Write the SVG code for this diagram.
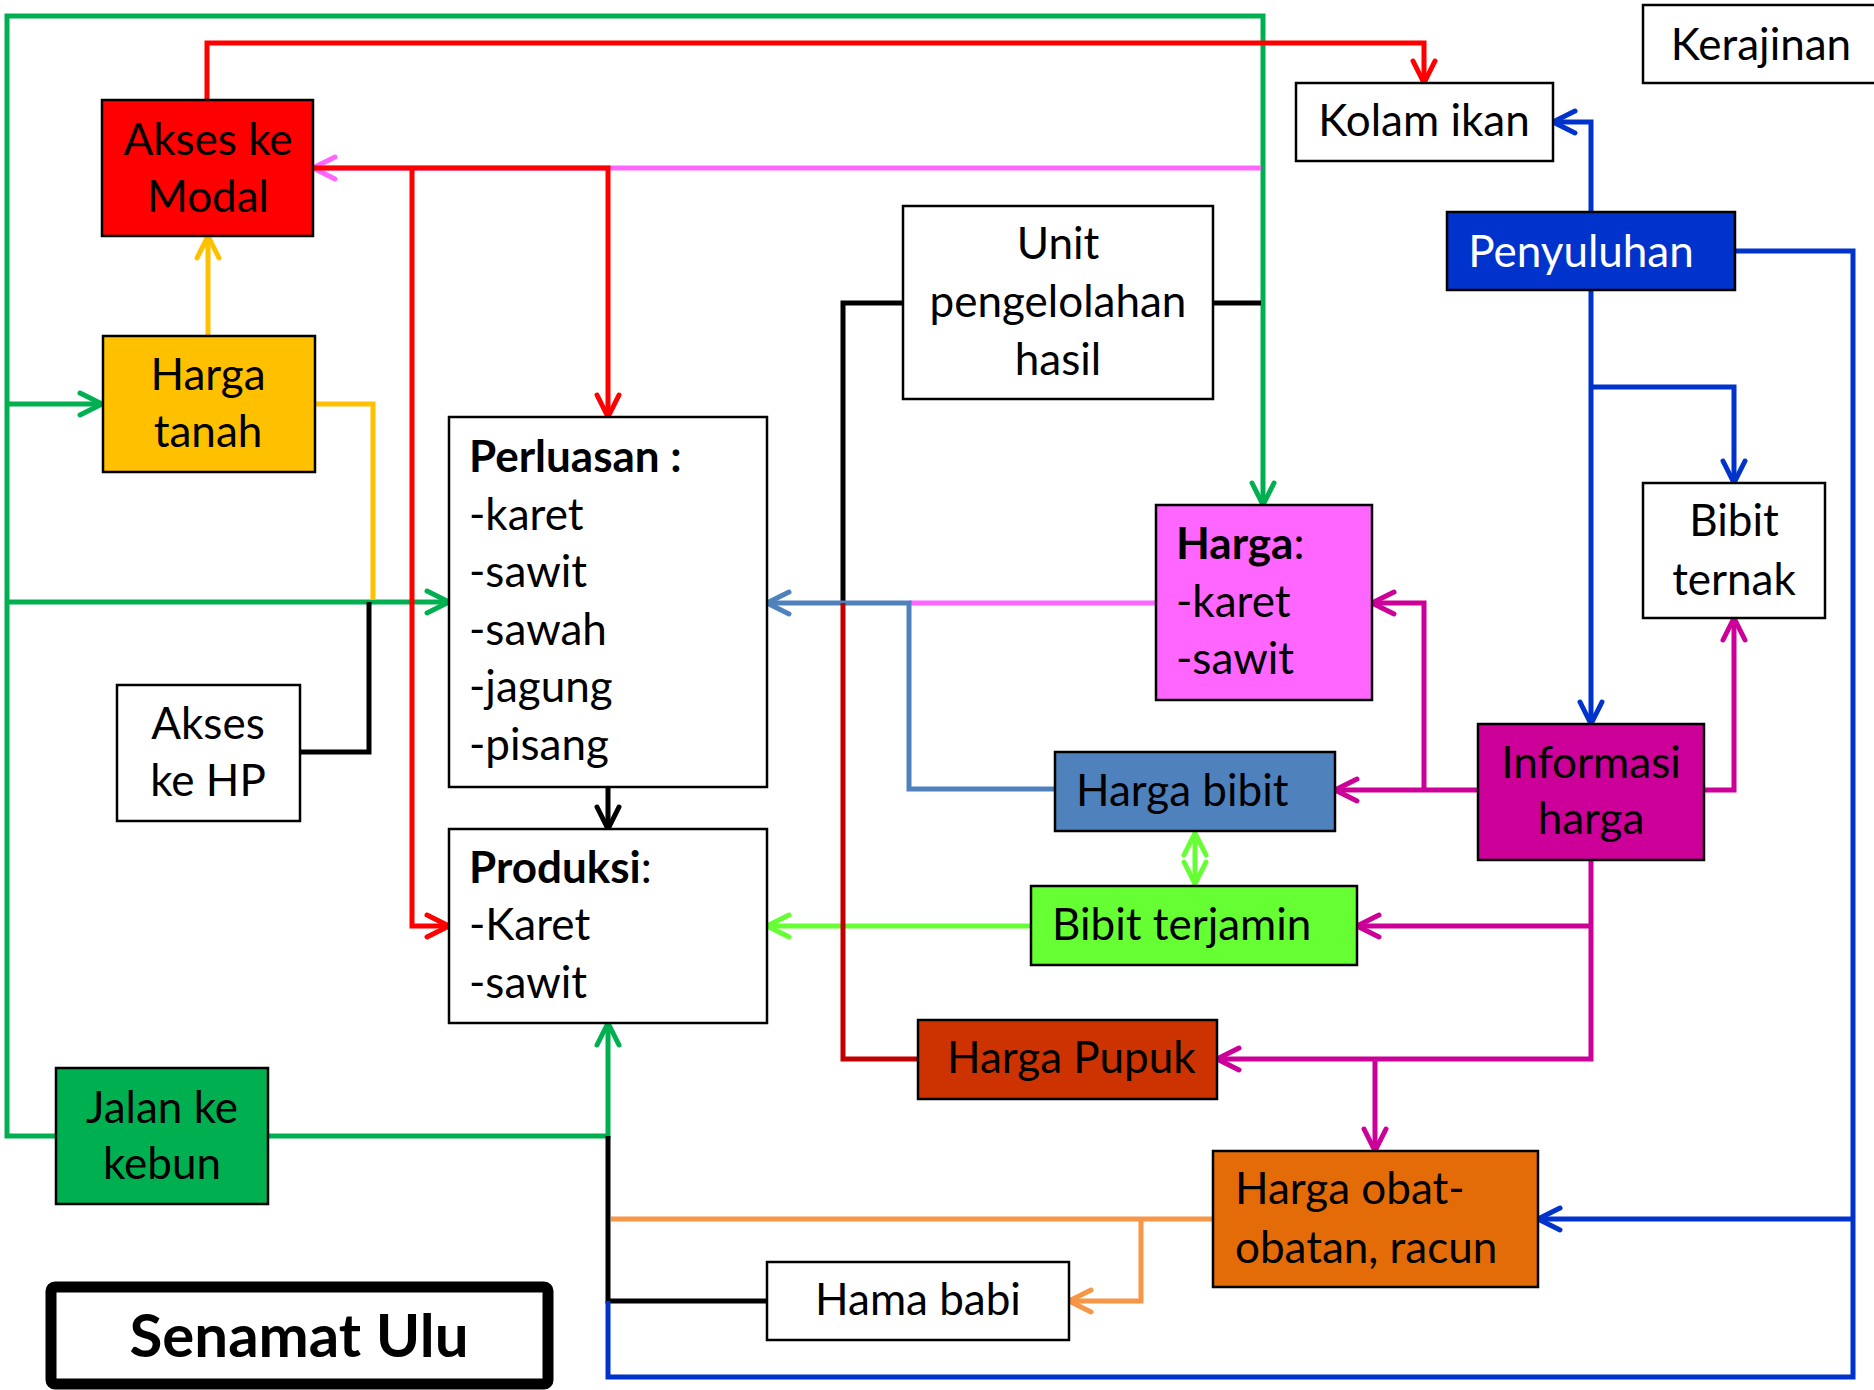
<svg xmlns="http://www.w3.org/2000/svg" width="1874" height="1390" viewBox="0 0 1874 1390">
<style>
.n{stroke:#000;stroke-width:2.5}
.t{font-family:Lato,"Liberation Sans",sans-serif;font-size:44px;fill:#000}
.m{text-anchor:middle}
.b{font-weight:bold}
.c{fill:none;stroke-width:5;stroke-linejoin:miter}
.ah{fill:none;stroke-width:5;stroke-linecap:round;stroke-linejoin:round}
</style>
<defs>
<marker id="aG" markerUnits="userSpaceOnUse" markerWidth="40" markerHeight="40" viewBox="-30 -20 40 40" refX="-2" refY="0" orient="auto"><path class="ah" stroke="#00B050" d="M-22,-11 L0,0 L-22,11"/></marker>
<marker id="aY" markerUnits="userSpaceOnUse" markerWidth="40" markerHeight="40" viewBox="-30 -20 40 40" refX="-2" refY="0" orient="auto"><path class="ah" stroke="#FFC000" d="M-22,-11 L0,0 L-22,11"/></marker>
<marker id="aK" markerUnits="userSpaceOnUse" markerWidth="40" markerHeight="40" viewBox="-30 -20 40 40" refX="-2" refY="0" orient="auto"><path class="ah" stroke="#000" d="M-22,-11 L0,0 L-22,11"/></marker>
<marker id="aR" markerUnits="userSpaceOnUse" markerWidth="40" markerHeight="40" viewBox="-30 -20 40 40" refX="-2" refY="0" orient="auto"><path class="ah" stroke="#FF0000" d="M-22,-11 L0,0 L-22,11"/></marker>
<marker id="aP" markerUnits="userSpaceOnUse" markerWidth="40" markerHeight="40" viewBox="-30 -20 40 40" refX="-2" refY="0" orient="auto"><path class="ah" stroke="#FF66FF" d="M-22,-11 L0,0 L-22,11"/></marker>
<marker id="aS" markerUnits="userSpaceOnUse" markerWidth="40" markerHeight="40" viewBox="-30 -20 40 40" refX="-2" refY="0" orient="auto"><path class="ah" stroke="#4F81BD" d="M-22,-11 L0,0 L-22,11"/></marker>
<marker id="aM" markerUnits="userSpaceOnUse" markerWidth="40" markerHeight="40" viewBox="-30 -20 40 40" refX="-2" refY="0" orient="auto"><path class="ah" stroke="#CC0099" d="M-22,-11 L0,0 L-22,11"/></marker>
<marker id="aL" markerUnits="userSpaceOnUse" markerWidth="40" markerHeight="40" viewBox="-30 -20 40 40" refX="-2" refY="0" orient="auto-start-reverse"><path class="ah" stroke="#66FF33" d="M-22,-11 L0,0 L-22,11"/></marker>
<marker id="aB" markerUnits="userSpaceOnUse" markerWidth="40" markerHeight="40" viewBox="-30 -20 40 40" refX="-2" refY="0" orient="auto"><path class="ah" stroke="#0033CC" d="M-22,-11 L0,0 L-22,11"/></marker>
<marker id="aO" markerUnits="userSpaceOnUse" markerWidth="40" markerHeight="40" viewBox="-30 -20 40 40" refX="-2" refY="0" orient="auto"><path class="ah" stroke="#F79646" d="M-22,-11 L0,0 L-22,11"/></marker>
</defs>
<rect width="1874" height="1390" fill="#fff"/>
<g id="connectors">
  <path class="c" stroke="#00B050" d="M56,1136 H7 V16 H1263 V503" marker-end="url(#aG)"/>
  <path class="c" stroke="#00B050" d="M7,404 H100" marker-end="url(#aG)"/>
  <path class="c" stroke="#00B050" d="M7,602 H447" marker-end="url(#aG)"/>
  <path class="c" stroke="#00B050" d="M268,1136 H608 V1025" marker-end="url(#aG)"/>
  <path class="c" stroke="#FFC000" d="M208,336 V238" marker-end="url(#aY)"/>
  <path class="c" stroke="#FFC000" d="M315,404 H373 V600"/>
  <path class="c" stroke="#000" d="M300,752 H369 V602"/>
  <path class="c" stroke="#000" d="M903,303 H843 V603"/>
  <path class="c" stroke="#000" d="M1213,303 H1261"/>
  <path class="c" stroke="#000" d="M608,787 V827" marker-end="url(#aK)"/>
  <path class="c" stroke="#000" d="M767,1301 H608 V1136"/>
  <path class="c" stroke="#FF66FF" d="M1261,168 H315" marker-end="url(#aP)"/>
  <path class="c" stroke="#FF66FF" d="M1156,603 H909"/>
  <path class="c" stroke="#FF0000" d="M207,100 V43 H1424 V81" marker-end="url(#aR)"/>
  <path class="c" stroke="#FF0000" d="M313,168 H608 V415" marker-end="url(#aR)"/>
  <path class="c" stroke="#FF0000" d="M412,168 V926 H447" marker-end="url(#aR)"/>
  <path class="c" stroke="#4F81BD" d="M1055,789 H909 V603 H769" marker-end="url(#aS)"/>
  <path class="c" stroke="#66FF33" d="M1031,926 H769" marker-end="url(#aL)"/>
  <path class="c" stroke="#66FF33" d="M1195,835 V882" marker-start="url(#aL)" marker-end="url(#aL)"/>
  <path class="c" stroke="#C00000" d="M918,1059 H843 V603"/>
  <path class="c" stroke="#CC0099" d="M1478,790 H1337" marker-end="url(#aM)"/>
  <path class="c" stroke="#CC0099" d="M1424,790 V603 H1374" marker-end="url(#aM)"/>
  <path class="c" stroke="#CC0099" d="M1704,790 H1734 V620" marker-end="url(#aM)"/>
  <path class="c" stroke="#CC0099" d="M1591,860 V1059 H1219" marker-end="url(#aM)"/>
  <path class="c" stroke="#CC0099" d="M1591,926 H1359" marker-end="url(#aM)"/>
  <path class="c" stroke="#CC0099" stroke-width="4" d="M1375,1059 V1149" marker-end="url(#aM)"/>
  <path class="c" stroke="#0033CC" d="M1591,212 V122 H1555" marker-end="url(#aB)"/>
  <path class="c" stroke="#0033CC" d="M1591,290 V722" marker-end="url(#aB)"/>
  <path class="c" stroke="#0033CC" d="M1591,387 H1734 V481" marker-end="url(#aB)"/>
  <path class="c" stroke="#0033CC" stroke-width="6" d="M1735,251 H1853 V1377 H608 V1301"/>
  <path class="c" stroke="#0033CC" d="M1853,1219 H1540" marker-end="url(#aB)"/>
  <path class="c" stroke="#F79646" d="M1213,1219 H611"/>
  <path class="c" stroke="#F79646" d="M1141,1219 V1301 H1071" marker-end="url(#aO)"/>
</g>
<g id="akses-modal"><rect class="n" x="102" y="100" width="211" height="136" fill="#FF0000"/><text class="t m" x="208" y="155">Akses ke</text><text class="t m" x="208" y="212">Modal</text></g>
<g id="harga-tanah"><rect class="n" x="103" y="336" width="212" height="136" fill="#FFC000"/><text class="t m" x="208" y="390">Harga</text><text class="t m" x="208" y="447">tanah</text></g>
<g id="perluasan"><rect class="n" x="449" y="417" width="318" height="370" fill="#fff"/><text class="t" x="469" y="472"><tspan class="b">Perluasan :</tspan></text><text class="t" x="469" y="530">-karet</text><text class="t" x="469" y="587">-sawit</text><text class="t" x="469" y="645">-sawah</text><text class="t" x="469" y="702">-jagung</text><text class="t" x="469" y="760">-pisang</text></g>
<g id="produksi"><rect class="n" x="449" y="829" width="318" height="194" fill="#fff"/><text class="t" x="469" y="883"><tspan class="b">Produksi</tspan>:</text><text class="t" x="469" y="940">-Karet</text><text class="t" x="469" y="998">-sawit</text></g>
<g id="akses-hp"><rect class="n" x="117" y="685" width="183" height="136" fill="#fff"/><text class="t m" x="208" y="739">Akses</text><text class="t m" x="208" y="796">ke HP</text></g>
<g id="jalan-kebun"><rect class="n" x="56" y="1068" width="212" height="136" fill="#00B050"/><text class="t m" x="162" y="1123">Jalan ke</text><text class="t m" x="162" y="1179">kebun</text></g>
<g id="senamat-ulu"><rect x="51" y="1287" width="497" height="97" rx="4" fill="#fff" stroke="#000" stroke-width="11"/><text class="t m b" x="299" y="1357" style="font-size:60px">Senamat Ulu</text></g>
<g id="unit"><rect class="n" x="903" y="206" width="310" height="193" fill="#fff"/><text class="t m" x="1058" y="259">Unit</text><text class="t m" x="1058" y="317">pengelolahan</text><text class="t m" x="1058" y="375">hasil</text></g>
<g id="kolam-ikan"><rect class="n" x="1296" y="83" width="257" height="78" fill="#fff"/><text class="t m" x="1424" y="136">Kolam ikan</text></g>
<g id="kerajinan"><rect class="n" x="1643" y="5" width="240" height="78" fill="#fff"/><text class="t m" x="1761" y="60">Kerajinan</text></g>
<g id="penyuluhan"><rect class="n" x="1447" y="212" width="288" height="78" fill="#0033CC"/><text class="t m" x="1581" y="267" style="fill:#fff">Penyuluhan</text></g>
<g id="bibit-ternak"><rect class="n" x="1643" y="483" width="182" height="135" fill="#fff"/><text class="t m" x="1734" y="536">Bibit</text><text class="t m" x="1734" y="595">ternak</text></g>
<g id="harga"><rect class="n" x="1156" y="505" width="216" height="195" fill="#FF66FF"/><text class="t" x="1176" y="559"><tspan class="b">Harga</tspan>:</text><text class="t" x="1176" y="617">-karet</text><text class="t" x="1176" y="674">-sawit</text></g>
<g id="informasi-harga"><rect class="n" x="1478" y="724" width="226" height="136" fill="#CC0099"/><text class="t m" x="1591" y="778">Informasi</text><text class="t m" x="1591" y="834">harga</text></g>
<g id="harga-bibit"><rect class="n" x="1055" y="752" width="280" height="79" fill="#4F81BD"/><text class="t" x="1076" y="806">Harga bibit</text></g>
<g id="bibit-terjamin"><rect class="n" x="1031" y="886" width="326" height="79" fill="#66FF33"/><text class="t" x="1052" y="940">Bibit terjamin</text></g>
<g id="harga-pupuk"><rect class="n" x="918" y="1020" width="299" height="79" fill="#CC3300"/><text class="t" x="947" y="1073">Harga Pupuk</text></g>
<g id="harga-obat"><rect class="n" x="1213" y="1151" width="325" height="136" fill="#E36C09"/><text class="t" x="1235" y="1204">Harga obat-</text><text class="t" x="1235" y="1263">obatan, racun</text></g>
<g id="hama-babi"><rect class="n" x="767" y="1262" width="302" height="78" fill="#fff"/><text class="t m" x="918" y="1315">Hama babi</text></g>
</svg>
